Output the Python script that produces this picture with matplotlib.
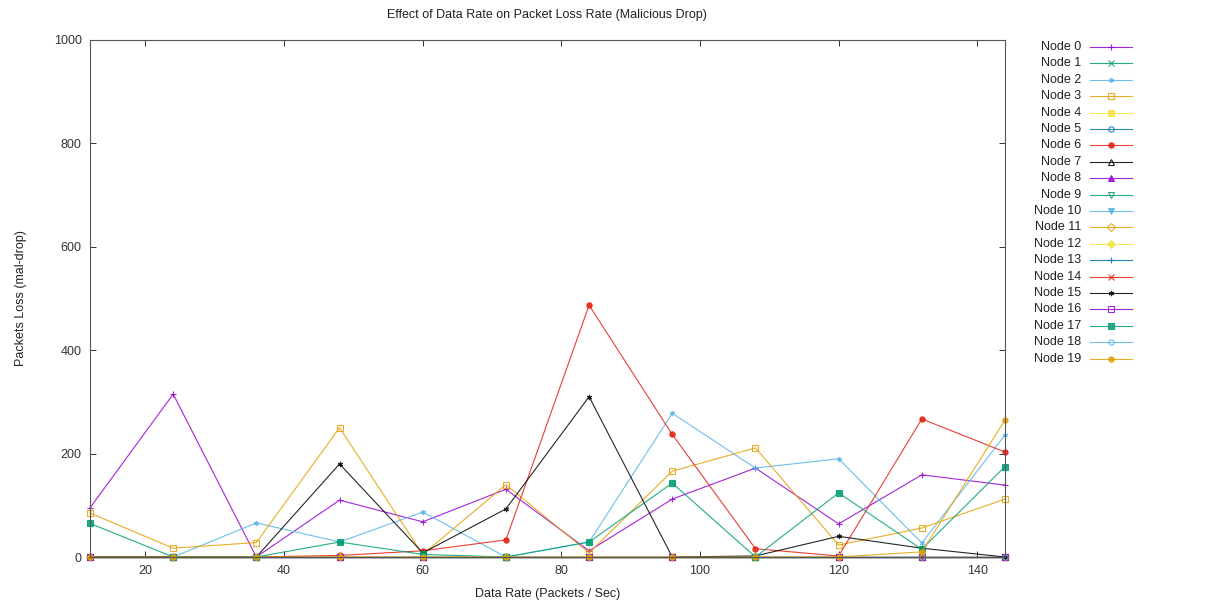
import matplotlib.pyplot as plt
from matplotlib.lines import Line2D

# Data rate (packets / sec)
rate = [12, 24, 36, 48, 60, 72, 84, 96, 108, 120, 132, 144]

# Packets lost to malicious drop, per node
node0 = [95, 315, 0, 110, 68, 131, 12, 112, 172, 64, 159, 139]
node1 = [0, 0, 0, 0, 0, 0, 0, 0, 0, 0, 0, 0]
node2 = [0, 0, 66, 29, 87, 0, 29, 278, 172, 190, 27, 236]
node3 = [85, 17, 28, 250, 5, 140, 8, 166, 211, 23, 56, 112]
node4 = [0, 0, 0, 0, 0, 0, 0, 0, 0, 0, 0, 0]
node5 = [0, 0, 0, 0, 0, 0, 0, 0, 0, 0, 0, 0]
node6 = [0, 0, 0, 3, 12, 33, 487, 237, 16, 2, 267, 203]
node7 = [0, 0, 0, 0, 0, 0, 0, 0, 0, 0, 0, 0]
node8 = [0, 0, 0, 0, 0, 0, 0, 0, 0, 0, 0, 0]
node9 = [0, 0, 0, 0, 0, 0, 0, 0, 0, 0, 0, 0]
node10 = [0, 0, 0, 0, 0, 0, 0, 0, 0, 0, 0, 0]
node11 = [0, 0, 0, 0, 0, 0, 0, 0, 0, 0, 0, 0]
node12 = [0, 0, 0, 0, 0, 0, 0, 0, 0, 0, 0, 0]
node13 = [0, 0, 0, 0, 0, 0, 0, 0, 0, 0, 0, 0]
node14 = [0, 0, 0, 0, 0, 0, 0, 0, 0, 0, 0, 0]
node15 = [0, 0, 0, 180, 8, 93, 310, 0, 2, 40, 17, 0]
node16 = [0, 0, 0, 0, 0, 0, 0, 0, 0, 0, 0, 0]
node17 = [65, 0, 0, 29, 5, 0, 29, 143, 0, 124, 15, 175]
node18 = [0, 0, 0, 0, 0, 0, 0, 0, 0, 0, 0, 0]
node19 = [0, 0, 0, 0, 0, 0, 0, 0, 0, 0, 10, 265]

series = [node0, node1, node2, node3, node4, node5, node6, node7, node8, node9,
          node10, node11, node12, node13, node14, node15, node16, node17, node18, node19]
labels = [f"Node {i}" for i in range(len(series))]

# gnuplot default colour / point cycles
colors = ['#9400d3', '#009e73', '#56b4e9', '#e69f00', '#f0e442', '#0072b2', '#e51e10', '#000000']
points = [('+', False), ('x', False), ((6, 2, 0), False), ('s', False), ('s', True),
          ('o', False), ('o', True), ('^', False), ('^', True), ('v', False), ('v', True),
          ('D', False), ('D', True)]

plt.rcParams['font.family'] = ['Liberation Sans', 'DejaVu Sans']

fig = plt.figure(figsize=(12.12, 6.08), dpi=100)
ax = fig.add_axes([90 / 1212, 1 - 557 / 608, 915 / 1212, 517 / 608])


def style(i):
    c = colors[i % 8]
    m, filled = points[i % 13]
    return dict(color=c, marker=m, markersize=3.8, markeredgewidth=0.8,
                markerfacecolor=c if filled else 'none', markeredgecolor=c,
                linewidth=0.8, alpha=0.85)


for i, vals in enumerate(series):
    ax.plot(rate, vals, clip_on=False, zorder=2 + i * 0.01, **style(i))

ax.set_xlim(12, 144)
ax.set_ylim(0, 1000)
ax.set_xticks([20, 40, 60, 80, 100, 120, 140])
ax.set_yticks([0, 200, 400, 600, 800, 1000])
ax.tick_params(direction='in', top=True, right=True, length=4, width=0.7,
               labelsize=9, colors='#333333', pad=6)
for s in ax.spines.values():
    s.set_linewidth(0.8)
    s.set_color('#555555')

ax.set_xlabel("Data Rate (Packets / Sec)", fontsize=9, color='#222222', labelpad=8)
ax.set_ylabel("Packets Loss (mal-drop)", fontsize=9, color='#222222', labelpad=19)
fig.text(547 / 1212, 1 - 15 / 608, "Effect of Data Rate on Packet Loss Rate (Malicious Drop)",
         ha='center', va='center', fontsize=9, color='#222222')

# legend drawn gnuplot-style: right-aligned text, sample line to the right
for i, name in enumerate(labels):
    y = 1 - (47 + i * 16.4) / 608
    st = style(i)
    fig.text(1081 / 1212, y, name, ha='right', va='center', fontsize=9, color='#222222')
    fig.add_artist(Line2D([1090 / 1212, 1132 / 1212], [y, y], transform=fig.transFigure,
                          color=st['color'], linewidth=st['linewidth'], alpha=st['alpha']))
    fig.add_artist(Line2D([1111 / 1212], [y], transform=fig.transFigure, linestyle='none',
                          **{k: v for k, v in st.items() if k != 'linewidth'}))

fig.savefig("out.png", dpi=100)
